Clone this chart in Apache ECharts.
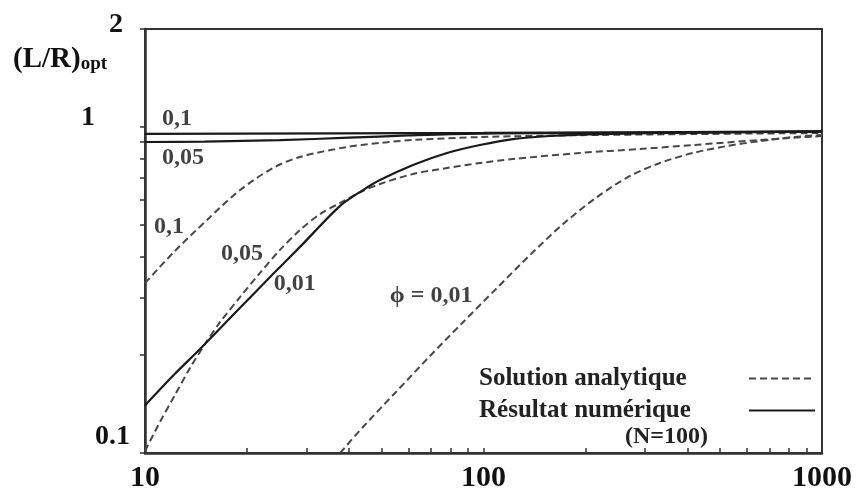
<!DOCTYPE html>
<html>
<head>
<meta charset="utf-8">
<script src="https://cdn.jsdelivr.net/npm/echarts@6/dist/echarts.min.js"></script>
<style>
  html, body { margin: 0; padding: 0; background: #fff; }
  #chart { width: 856px; height: 496px; }
</style>
</head>
<body>
<div id="chart"></div>
<script>
const SERIF = 'Liberation Serif, Times New Roman, serif';

// axis ticks / labels
const xTickValues = [10, 20, 30, 40, 50, 60, 70, 80, 90, 100, 200, 300, 400, 500, 600, 700, 800, 900, 1000];
const xLabelValues = [10, 100, 1000];
const yTickValues = [0.1, 0.2, 0.3, 0.4, 0.5, 0.6, 0.7, 0.8, 0.9, 1, 2];
const yLabelValues = [0.1, 1, 2];
const yLabelTexts = ['0.1', '1', '2'];

// numerical result (solid), phi = 0.1
const numX01 = [10, 100, 1000];
const numY01 = [0.953, 0.96, 0.97];
// numerical result (solid), phi = 0.05
const numX005 = [10, 15, 25, 40, 60, 80, 150, 1000];
const numY005 = [0.900, 0.903, 0.912, 0.928, 0.943, 0.952, 0.958, 0.968];
// numerical result (solid), phi = 0.01
const numX001 = [10, 12.26, 14.54, 19.09, 23.88, 28.7, 37.7, 44.06, 49.45, 61.9, 78, 97.6, 122.2, 157, 221, 436, 1000];
const numY001 = [0.140, 0.175, 0.2085, 0.279, 0.354, 0.429, 0.573, 0.641, 0.688, 0.765, 0.833, 0.881, 0.919, 0.939, 0.952, 0.962, 0.970];

// analytical solution (dashed), phi = 0.1
const anaX01 = [10, 12.1, 15.25, 19.09, 23.88, 28.7, 39.5, 49.45, 61.9, 97.6, 221, 1000];
const anaY01 = [0.332, 0.411, 0.519, 0.641, 0.749, 0.810, 0.869, 0.894, 0.913, 0.932, 0.946, 0.959];
// analytical solution (dashed), phi = 0.05
const anaX005 = [10, 11.07, 12.26, 13.58, 15.04, 16.66, 19.09, 21.86, 25.05, 28.7, 32.9, 37.7, 44.06, 49.45, 61.9, 78, 97.6, 122.2, 192.8, 290, 416, 656, 1000];
const anaY005 = [0.1014, 0.1245, 0.1507, 0.1823, 0.216, 0.252, 0.301, 0.357, 0.420, 0.483, 0.541, 0.585, 0.637, 0.669, 0.718, 0.749, 0.776, 0.798, 0.833, 0.857, 0.881, 0.913, 0.939];
// analytical solution (dashed), phi = 0.01
const anaX001 = [37.7, 44.06, 55.5, 69.5, 87, 109.6, 137.2, 171.8, 216.4, 270.9, 332, 416, 524, 656, 821, 1000];
const anaY001 = [0.1, 0.1202, 0.155, 0.1985, 0.252, 0.321, 0.405, 0.504, 0.610, 0.708, 0.776, 0.833, 0.875, 0.906, 0.932, 0.946];

// curve annotations
const noteX = [12.43, 12.95, 11.77, 19.35, 27.7, 70.0];
const noteY = [1.059, 0.804, 0.494, 0.408, 0.330, 0.303];
const noteText = ['0,1', '0,05', '0,1', '0,05', '0,01', 'ϕ = 0,01'];

const legendNames = ['Solution analytique', 'Résultat numérique'];

const pairs = (xs, ys) => xs.map((x, i) => [x, ys[i]]);

const solidStyle = { color: '#1a1a1a', width: 2.2, type: 'solid' };
const dashStyle = { color: '#484848', width: 2, type: [7, 4] };

const lineSeries = (name, xs, ys, style) => ({
  name,
  type: 'line',
  data: pairs(xs, ys),
  symbol: 'none',
  smooth: 0.3,
  lineStyle: style,
  itemStyle: { color: style.color },
  silent: true
});

const chart = echarts.init(document.getElementById('chart'));

chart.setOption({
  animation: false,
  backgroundColor: '#fff',
  title: {
    text: '{m|(L/R)}{s|opt}',
    left: 8,
    top: 40,
    textStyle: {
      rich: {
        m: { fontFamily: SERIF, fontWeight: 'bold', fontSize: 29, color: '#111' },
        s: { fontFamily: SERIF, fontWeight: 'bold', fontSize: 19, color: '#111', padding: [10, 0, 0, 0] }
      }
    }
  },
  grid: {
    left: 145, right: 34, top: 29, bottom: 43,
    show: true, borderColor: '#333', borderWidth: 2
  },
  legend: {
    data: legendNames,
    orient: 'vertical',
    align: 'right',
    left: 474,
    top: 361,
    itemWidth: 66,
    itemHeight: 14,
    itemGap: 7,
    selectedMode: false,
    itemStyle: { opacity: 0 },
    formatter: '{t|{name}}',
    textStyle: {
      rich: {
        t: { fontFamily: SERIF, fontWeight: 'bold', fontSize: 25, color: '#222', width: 265, lineHeight: 24, align: 'left' }
      }
    }
  },
  xAxis: {
    type: 'log',
    logBase: 10,
    min: 10,
    max: 1000,
    axisLine: { lineStyle: { color: '#333', width: 2.5 } },
    axisTick: { show: true, inside: true, length: 5, customValues: xTickValues, lineStyle: { color: '#333', width: 1.5 } },
    minorTick: { show: false },
    splitLine: { show: false },
    axisLabel: {
      customValues: xLabelValues,
      margin: 10,
      formatter: v => String(v),
      fontFamily: SERIF,
      fontWeight: 'bold',
      fontSize: 30,
      color: '#111'
    }
  },
  yAxis: {
    type: 'log',
    logBase: 10,
    min: 0.1,
    max: 2,
    axisLine: { lineStyle: { color: '#333', width: 2.5 } },
    axisTick: { show: true, inside: false, length: 5, customValues: yTickValues, lineStyle: { color: '#333', width: 1.5 } },
    splitLine: { show: false },
    axisLabel: {
      customValues: yLabelValues,
      margin: 15,
      formatter: v => {
        const i = yLabelValues.findIndex(t => Math.abs(t - v) < 1e-6);
        return '{l' + i + '|' + yLabelTexts[i] + '}';
      },
      rich: {
        l0: { fontFamily: SERIF, fontWeight: 'bold', fontSize: 28, color: '#111', padding: [0, 0, 32, 0] },
        l1: { fontFamily: SERIF, fontWeight: 'bold', fontSize: 28, color: '#111', padding: [0, 35, 18, 0] },
        l2: { fontFamily: SERIF, fontWeight: 'bold', fontSize: 28, color: '#111', padding: [0, 7, 8, 0] }
      }
    }
  },
  graphic: [{
    type: 'text',
    left: 625,
    top: 425,
    style: { text: '(N=100)', font: 'bold 24px ' + SERIF, fill: '#222' }
  }],
  series: [
    lineSeries(legendNames[0], anaX01, anaY01, dashStyle),
    lineSeries(legendNames[0], anaX005, anaY005, dashStyle),
    lineSeries(legendNames[0], anaX001, anaY001, dashStyle),
    lineSeries(legendNames[1], numX01, numY01, solidStyle),
    lineSeries(legendNames[1], numX005, numY005, solidStyle),
    lineSeries(legendNames[1], numX001, numY001, solidStyle),
    {
      type: 'scatter',
      silent: true,
      symbolSize: 0,
      data: noteX.map((x, i) => ({ value: [x, noteY[i]], name: noteText[i] })),
      label: {
        show: true,
        position: 'inside',
        formatter: p => p.name,
        fontFamily: SERIF,
        fontWeight: 'bold',
        fontSize: 24,
        color: '#111'
      }
    }
  ]
});
</script>
</body>
</html>
